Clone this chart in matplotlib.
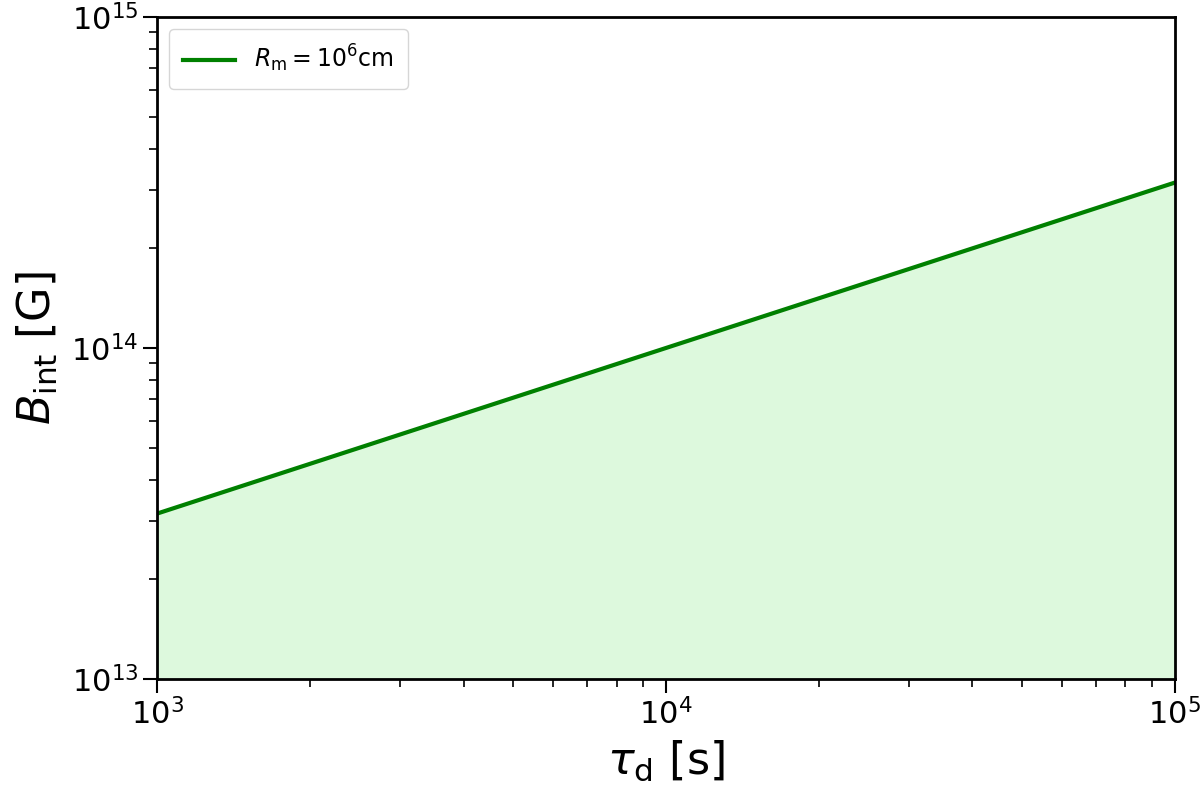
import matplotlib
matplotlib.use("Agg")
import matplotlib.pyplot as plt
import numpy as np

# diffusion time [s] and interior field [G]
tau_d = [1e3, 1e4, 1e5]
B_int = [3.16e13, 1.0e14, 3.16e14]
label = r"$R_{\rm m}=10^6{\rm cm}$"

fig, ax = plt.subplots(figsize=(12, 7.95), dpi=100)
fig.subplots_adjust(left=0.131, right=0.979, top=0.9786, bottom=0.146)

ax.fill_between(tau_d, 1e13, B_int, color="lightgreen", alpha=0.3, linewidth=0)
ax.plot(tau_d, B_int, color="green", linewidth=3, label=label)

ax.set_xscale("log")
ax.set_yscale("log")
ax.set_xlim(1e3, 1e5)
ax.set_ylim(1e13, 1e15)

ax.set_xlabel(r"$\tau_{\rm d}$ [s]", fontsize=32, labelpad=6)
ax.set_ylabel(r"$B_{\rm int}$ [G]", fontsize=32, labelpad=8)
ax.tick_params(which="major", labelsize=22, length=10, width=1.5)
ax.tick_params(which="minor", length=6, width=1.2)
for s in ax.spines.values():
    s.set_linewidth(2)

ax.legend(loc="upper left", fontsize=17, handlelength=2.2, borderpad=0.6)

plt.savefig("out.png", dpi=100)
